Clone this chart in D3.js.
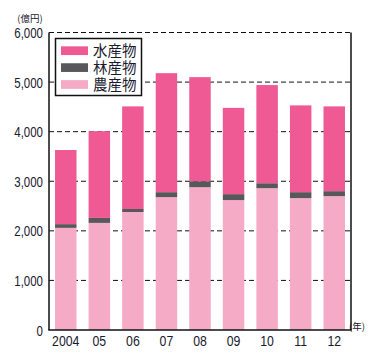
<!DOCTYPE html>
<html lang="ja"><head><meta charset="utf-8">
<script src="https://cdn.jsdelivr.net/npm/d3@7"></script>
<style>body{margin:0;background:#fff}svg{display:block}</style>
</head><body>
<script>
const years = ["2004","05","06","07","08","09","10","11","12"];
const agri = [2060, 2160, 2380, 2680, 2880, 2620, 2860, 2660, 2700];
const forest = [75, 100, 60, 100, 120, 120, 100, 120, 100];
const fishery = [1495, 1750, 2070, 2400, 2100, 1740, 1980, 1750, 1710];
const yTicks = [0, 1000, 2000, 3000, 4000, 5000, 6000];
const seriesNames = ["農産物", "林産物", "水産物"];
const legendOrder = ["水産物", "林産物", "農産物"];
const colors = {"水産物": "#EF5A94", "林産物": "#58585A", "農産物": "#F5ABC6"};

(function () {
const W = 374, H = 355;
const mLeft = 49, mRight = 351, mTop = 32.5, mBottom = 330;
const svg = d3.select("body").append("svg").attr("width", W).attr("height", H);

const x = d3.scaleBand().domain(years).range([mLeft, mRight]).paddingInner(0.36).paddingOuter(0.18);
const y = d3.scaleLinear().domain([0, 6000]).range([mBottom, mTop]);

const rows = years.map((yr, i) => ({year: yr, "農産物": agri[i], "林産物": forest[i], "水産物": fishery[i]}));
const stack = d3.stack().keys(seriesNames)(rows);

// gridlines
svg.append("g").selectAll("line").data(yTicks.filter(d => d > 0)).join("line")
  .attr("x1", mLeft).attr("x2", mRight)
  .attr("y1", d => y(d)).attr("y2", d => y(d))
  .attr("stroke", "#111").attr("stroke-width", 1).attr("stroke-dasharray", "5,3");

// bars
svg.append("g").selectAll("g").data(stack).join("g")
  .attr("fill", d => colors[d.key])
  .selectAll("rect").data(d => d).join("rect")
  .attr("x", d => x(d.data.year))
  .attr("width", x.bandwidth())
  .attr("y", d => y(d[1]))
  .attr("height", d => y(d[0]) - y(d[1]));

// axes frame
svg.append("line").attr("x1", mLeft).attr("x2", mLeft).attr("y1", mTop).attr("y2", mBottom)
  .attr("stroke", "#111").attr("stroke-width", 1.5);
svg.append("line").attr("x1", mRight).attr("x2", mRight).attr("y1", mTop).attr("y2", mBottom)
  .attr("stroke", "#111").attr("stroke-width", 1.5);
svg.append("line").attr("x1", mLeft - 0.75).attr("x2", mRight + 0.75).attr("y1", mBottom).attr("y2", mBottom)
  .attr("stroke", "#111").attr("stroke-width", 1.5);

const fmt = d3.format(",");
// y tick labels
svg.append("g").selectAll("text").data(yTicks).join("text")
  .attr("transform", d => `translate(43,${y(d) + 5.5}) scale(0.82,1)`)
  .attr("text-anchor", "end")
  .attr("font-family", "Liberation Sans, Arial, sans-serif")
  .attr("font-size", 14).attr("fill", "#1a1a2e")
  .text(d => fmt(d));

// x tick labels
svg.append("g").selectAll("text").data(years).join("text")
  .attr("transform", d => `translate(${x(d) + x.bandwidth() / 2},346) scale(0.82,1)`)
  .attr("text-anchor", "middle")
  .attr("font-family", "Liberation Sans, Arial, sans-serif")
  .attr("font-size", 15).attr("fill", "#1a1a2e")
  .text(d => d);

// units
svg.append("text").attr("x", 30).attr("y", 22).attr("text-anchor", "middle")
  .attr("font-family", "Noto Sans CJK JP, sans-serif").attr("font-size", 9.5).attr("fill", "#1a1a2e")
  .text("(億円)");
svg.append("text").attr("x", 357).attr("y", 330).attr("text-anchor", "middle")
  .attr("font-family", "Noto Sans CJK JP, sans-serif").attr("font-size", 9.5).attr("fill", "#1a1a2e")
  .text("(年)");

// legend
const lg = svg.append("g");
lg.append("rect").attr("x", 55.5).attr("y", 38.5).attr("width", 86).attr("height", 57)
  .attr("fill", "#fff").attr("stroke", "#111").attr("stroke-width", 1.5);
const ly = d3.scalePoint().domain(legendOrder).range([50.7, 84.5]);
const items = lg.selectAll("g").data(legendOrder).join("g");
items.append("rect").attr("x", 61).attr("width", 27).attr("height", 8.7)
  .attr("y", d => ly(d) - 4.35).attr("fill", d => colors[d]);
items.append("text")
  .attr("x", 93).attr("y", d => ly(d) + 5.5)
  .attr("font-family", "Liberation Sans, Noto Sans CJK JP, sans-serif").attr("font-size", 14.5).attr("fill", "#1a1a2e")
  .text(d => d);
})();
</script>
</body></html>
